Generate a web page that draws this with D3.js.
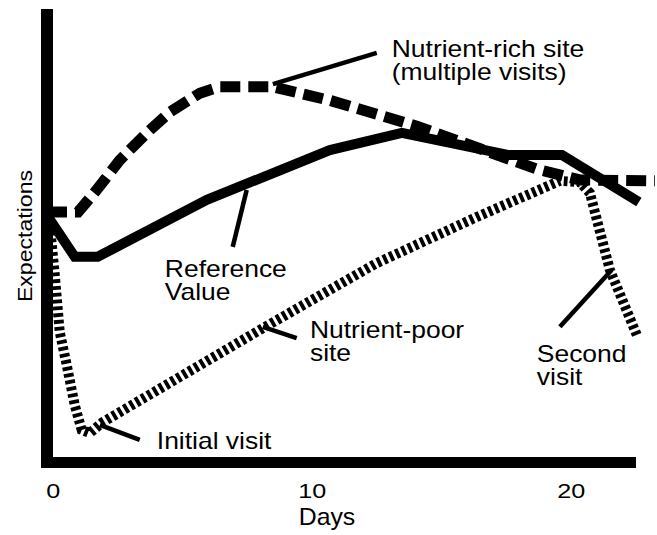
<!DOCTYPE html>
<html>
<head>
<meta charset="utf-8">
<script src="https://cdn.jsdelivr.net/npm/d3@7"></script>
<style>
  body { margin: 0; background: #fff; }
  text { font-family: "Liberation Sans", Arial, sans-serif; fill: #000; }
</style>
</head>
<body>
<div class="chartHolder"></div>
<script>
// series (x = days, y = expectation, arbitrary 0-100)
const refDays    = [-0.3, 0.77, 1.66, 5.87, 10.62, 13.4, 17.53, 19.58, 22.55];
const refValues  = [54.6, 45.4, 45.4, 58, 69, 72.8, 67.9, 67.9, 57.5];

const richDays   = [-0.3, 0.9, 1.62, 2.51, 3.55, 4.44, 5.6, 6.37, 8.42, 10.62, 13.98, 18.61, 20.27, 23.17];
const richValues = [55.3, 55.3, 60.2, 66.8, 72.8, 77.4, 81.6, 83, 83, 80, 74.3, 64.8, 62.4, 62.2];

const poorDays   = [-0.19, 0, 0.19, 0.46, 0.77, 1.04, 1.35, 1.85, 8.03, 10.62, 12.43, 16.29, 19.5, 20.27, 20.66, 21.43, 22.47];
const poorValues = [52.4, 41.4, 28.8, 21.5, 12.6, 7.1, 6.4, 8.8, 29.6, 38.1, 44, 54.2, 62.2, 61.9, 59.5, 42.5, 28.1];

const xTicks = [0, 10, 20];

// annotations: text lines, anchor (day, value), leader line (day, value) pairs
const labelLines  = [["Nutrient-rich site", "(multiple visits)"], ["Reference", "Value"], ["Initial visit"], ["Nutrient-poor", "site"], ["Second", "visit"]];
const labelDays   = [13.01, 4.25, 3.94, 9.85, 18.61];
const labelValues = [89.6, 40.9, 2.9, 27.4, 22.1];
const leaderFrom  = [[8.42, 83.6], [7.41, 60.2], [1.74, 8.2], [8.03, 29.9], [19.5, 29.9]];
const leaderTo    = [[12.43, 90.5], [6.87, 47.6], [3.28, 4.9], [9.34, 27.4], [21.5, 42.5]];

const width = 657;
const height = 535;

const svg = d3.select('.chartHolder')
  .append('svg')
  .attr('width', width)
  .attr('height', height);

const xScale = d3.scaleLinear().domain([-0.3, 22.4]).range([47, 635]);
const yScale = d3.scaleLinear().domain([0, 100]).range([462, 10]);

const line = d3.line()
  .x(d => xScale(d[0]))
  .y(d => yScale(d[1]));

// leader lines under everything else
leaderFrom.forEach((p, i) => {
  svg.append('line')
    .attr('x1', xScale(p[0])).attr('y1', yScale(p[1]))
    .attr('x2', xScale(leaderTo[i][0])).attr('y2', yScale(leaderTo[i][1]))
    .attr('stroke', '#000')
    .attr('stroke-width', 4.5);
});

// nutrient-poor site (dotted)
svg.append('path')
  .datum(d3.zip(poorDays, poorValues))
  .attr('d', line)
  .attr('fill', 'none')
  .attr('stroke', '#000')
  .attr('stroke-width', 10)
  .attr('stroke-dasharray', '3.8,3');

// nutrient-rich site (dashed)
svg.append('path')
  .datum(d3.zip(richDays, richValues))
  .attr('d', line)
  .attr('fill', 'none')
  .attr('stroke', '#000')
  .attr('stroke-width', 11)
  .attr('stroke-dasharray', '20,8');

// reference value (solid)
svg.append('path')
  .datum(d3.zip(refDays, refValues))
  .attr('d', line)
  .attr('fill', 'none')
  .attr('stroke', '#000')
  .attr('stroke-width', 10)
  .attr('stroke-linejoin', 'miter');

// thick axis bars
svg.append('line')
  .attr('x1', 47).attr('y1', 9)
  .attr('x2', 47).attr('y2', 468)
  .attr('stroke', '#000').attr('stroke-width', 12);
svg.append('line')
  .attr('x1', 41).attr('y1', 462.5)
  .attr('x2', 636).attr('y2', 462.5)
  .attr('stroke', '#000').attr('stroke-width', 11);

const xAxis = d3.axisBottom(xScale)
  .tickValues(xTicks)
  .tickSize(0)
  .tickPadding(0);

const xAxisGroup = svg.append('g')
  .attr('transform', 'translate(-2, 498)')
  .call(xAxis);
xAxisGroup.select('.domain').remove();
xAxisGroup.selectAll('text')
  .attr('dy', 0)
  .attr('y', 0)
  .attr('transform', 'scale(1.2, 1)')   // stretched like the original lettering
  .style('font-size', '21px')
  .style('font-family', '"Liberation Sans", Arial, sans-serif')
  .attr('fill', '#000');

svg.append('text')
  .attr('transform', 'translate(327, 525) scale(1.08, 1)')
  .attr('text-anchor', 'middle')
  .style('font-size', '23px')
  .text('Days');

svg.append('text')
  .attr('transform', 'translate(32, 236) rotate(-90) scale(1.1, 1)')
  .attr('text-anchor', 'middle')
  .style('font-size', '21px')
  .text('Expectations');

// annotation text
labelLines.forEach((lines, i) => {
  const g = svg.append('g')
    .attr('transform', `translate(${xScale(labelDays[i])}, ${yScale(labelValues[i])}) scale(1.15, 1)`);
  lines.forEach((t, j) => {
    g.append('text')
      .attr('y', j * 23)
      .style('font-size', '23px')
      .text(t);
  });
});
</script>
</body>
</html>
